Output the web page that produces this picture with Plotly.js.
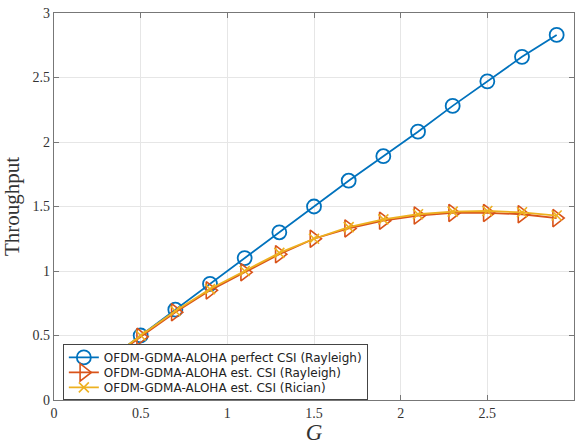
<!DOCTYPE html>
<html>
<head>
<meta charset="utf-8">
<script src="https://cdn.plot.ly/plotly-3.0.1.min.js"></script>
<style>html,body{margin:0;padding:0;background:#fff;}#chart{width:576px;height:445px;}</style>
</head>
<body>
<div id="chart"></div>
<script>
const G = [0.1, 0.3, 0.5, 0.7, 0.9, 1.1, 1.3, 1.5, 1.7, 1.9, 2.1, 2.3, 2.5, 2.7, 2.9];
const perfectRayleigh = [0.1, 0.3, 0.5, 0.7, 0.9, 1.1, 1.3, 1.5, 1.7, 1.89, 2.08, 2.28, 2.47, 2.66, 2.83];
const estRayleigh = [0.09, 0.29, 0.49, 0.68, 0.85, 0.99, 1.13, 1.25, 1.33, 1.39, 1.43, 1.45, 1.45, 1.44, 1.41];
const estRician = [0.1, 0.3, 0.5, 0.69, 0.86, 1.0, 1.14, 1.25, 1.34, 1.4, 1.44, 1.46, 1.465, 1.455, 1.43];
const seriesNames = [
  'OFDM-GDMA-ALOHA perfect CSI (Rayleigh)',
  'OFDM-GDMA-ALOHA est. CSI (Rayleigh)',
  'OFDM-GDMA-ALOHA est. CSI (Rician)'
];
const xTicks = [0, 0.5, 1, 1.5, 2, 2.5, 3];
const yTicks = [0, 0.5, 1, 1.5, 2, 2.5, 3];

const traces = [
  {x: G, y: perfectRayleigh, name: seriesNames[0], mode: 'lines+markers',
   line: {color: '#0072BD', width: 1.8},
   marker: {symbol: 'circle-open', size: 14, color: '#0072BD', line: {width: 1.8}}},
  {x: G, y: estRayleigh, name: seriesNames[1], mode: 'lines+markers',
   line: {color: '#D95319', width: 1.8},
   marker: {symbol: 'triangle-right-open', size: 15, color: '#D95319', line: {width: 1.6}}},
  {x: G, y: estRician, name: seriesNames[2], mode: 'lines+markers',
   line: {color: '#EDB120', width: 1.8},
   marker: {symbol: 'x-thin-open', size: 10, color: '#EDB120', line: {width: 1.6}}}
];

const axisCommon = {
  showline: true, mirror: 'ticks', linecolor: '#777', linewidth: 1.2,
  ticks: 'inside', ticklen: 5, tickcolor: '#777',
  showgrid: true, gridcolor: '#e6e6e6', gridwidth: 1,
  zeroline: false,
  tickfont: {family: 'Liberation Serif, Times New Roman, serif', size: 14, color: '#333'}
};

const layout = {
  width: 576, height: 445,
  margin: {l: 54, r: 2, t: 13, b: 45},
  paper_bgcolor: '#fff', plot_bgcolor: '#fff',
  showlegend: true,
  legend: {
    x: 0.017, y: 0.145, xanchor: 'left', yanchor: 'top',
    bgcolor: '#fff', bordercolor: '#444', borderwidth: 1,
    font: {family: 'DejaVu Sans, Arial, sans-serif', size: 12, color: '#222'},
    tracegroupgap: 0, itemwidth: 30, traceorder: 'normal'
  },
  xaxis: Object.assign({}, axisCommon, {
    range: [0, 3], tickvals: xTicks, ticktext: xTicks.map(String),
    title: {text: '<i>G</i>', font: {family: 'Liberation Serif, Times New Roman, serif', size: 23, color: '#333'}, standoff: 12}
  }),
  yaxis: Object.assign({}, axisCommon, {
    range: [0, 3], tickvals: yTicks, ticktext: yTicks.map(String),
    title: {text: 'Throughput', font: {family: 'Liberation Serif, Times New Roman, serif', size: 21, color: '#333'}, standoff: 10}
  })
};

Plotly.newPlot('chart', traces, layout, {displayModeBar: false, staticPlot: true}).then(function (gd) {
  // tighten legend row spacing to match the MATLAB-style compact legend
  const items = gd.querySelectorAll('.legend .traces');
  const spacing = 15;
  if (items.length > 1) {
    const parseY = el => {
      const m = /translate\(\s*([-\d.]+)[ ,]+([-\d.]+)/.exec(el.getAttribute('transform') || '');
      return m ? [parseFloat(m[1]), parseFloat(m[2])] : [0, 0];
    };
    const first = parseY(items[0]);
    const last = parseY(items[items.length - 1]);
    const oldSpan = last[1] - first[1];
    items.forEach((el, i) => {
      const p = parseY(el);
      el.setAttribute('transform', 'translate(' + p[0] + ',' + (first[1] - 2 + i * spacing) + ')');
    });
    const shrink = oldSpan - spacing * (items.length - 1) + 5;
    gd.querySelectorAll('.legend rect.bg').forEach(r => {
      const h = parseFloat(r.getAttribute('height'));
      r.setAttribute('height', h - shrink);
    });
  }
});
</script>
</body>
</html>
